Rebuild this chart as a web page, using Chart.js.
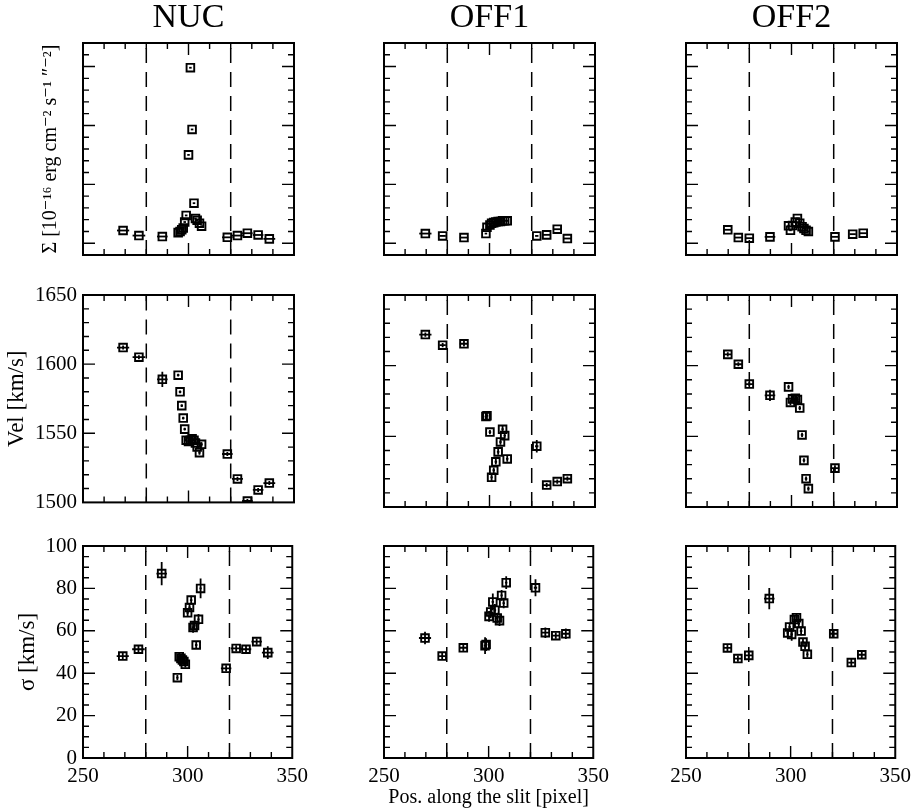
<!DOCTYPE html>
<html lang="en">
<head>
<meta charset="UTF-8">
<title>Slit profiles: NUC, OFF1, OFF2</title>
<script src="https://cdn.jsdelivr.net/npm/chart.js"></script>
<style>
    body {
        margin: 0;
        background: #fff;
        width: 912px;
        height: 811px;
        position: relative;
        overflow: hidden;
    }
    canvas {
        position: absolute;
    }
</style>
</head>
<body>
<script>
    // ---- data ----
    const slitEdges = [280, 320];
    const xTicks = [250, 300, 350];

    // NUC
    const nucPos    = [269.0, 276.5, 287.6, 295.1, 296.0, 296.8, 297.5, 298.2, 298.9, 300.0, 300.9, 301.7, 302.6, 303.3, 304.1, 305.2, 306.2, 318.4, 323.2, 327.9, 333.0, 338.3];
    const nucPosErr = [2.9, 3.0, 2.5, 0.6, 0.6, 0.6, 0.6, 0.6, 0.6, 0.6, 0.6, 0.6, 0.6, 0.6, 0.6, 0.6, 0.6, 2.5, 2.6, 2.5, 2.5, 2.8];
    const nucFlux   = [1.08, 0.65, 0.57, 0.9, 1.0, 1.15, 1.3, 1.8, 2.36, 7.5, 14.9, 9.66, 3.4, 2.1, 1.95, 1.7, 1.45, 0.5, 0.65, 0.85, 0.7, 0.37];
    const nucVel    = [1612, 1605, 1589, 1592, 1580, 1570, 1561, 1553, 1545, 1544, 1545, 1546, 1545, 1543, 1540, 1536, 1542, 1535, 1517, 1501, 1509, 1514];
    const nucVelErr = [1.5, 1.5, 5.5, 1, 1, 1, 1, 1, 1, 1, 1, 1, 1, 1, 1, 1.5, 1.5, 1.5, 1.5, 1.5, 1.5, 1.5];
    const nucSig    = [48.1, 51.3, 87.0, 37.9, 47.8, 47.0, 46.2, 45.5, 44.2, 68.5, 71.0, 74.5, 61.6, 62.5, 53.3, 65.4, 80.0, 42.3, 51.7, 51.3, 54.9, 49.7];
    const nucSigErr = [1.5, 1.5, 5.5, 1.2, 2, 2, 2, 1.5, 1.5, 2, 2, 2, 2.5, 2, 1.5, 2.5, 4.7, 1.5, 1.5, 2, 1.5, 3];

    // OFF1
    const off1Pos    = [269.6, 277.8, 287.9, 298.3, 298.8, 300.2, 301.0, 302.0, 303.0, 304.1, 305.2, 306.2, 307.2, 308.4, 322.4, 327.1, 332.1, 336.9];
    const off1PosErr = [2.9, 1.5, 2.0, 0.6, 0.6, 0.6, 0.6, 0.6, 0.6, 0.6, 0.6, 0.6, 0.6, 0.6, 0.8, 2.0, 2.0, 2.0];
    const off1Flux   = [0.82, 0.62, 0.48, 0.82, 1.35, 1.55, 1.7, 1.75, 1.8, 1.85, 1.85, 1.9, 1.9, 1.9, 0.62, 0.71, 1.19, 0.4];
    const off1Vel    = [1622, 1614.5, 1615.5, 1564, 1564.5, 1553, 1521, 1526, 1532, 1539, 1546, 1555, 1550.5, 1534, 1543, 1515.5, 1518, 1520];
    const off1VelErr = [1.5, 1.5, 2, 2.5, 2.5, 1.5, 2.5, 2, 2, 2, 2, 2.5, 2, 2, 4.4, 1.5, 1.5, 1.5];
    const off1Sig    = [56.6, 48.1, 52.0, 53.0, 53.5, 66.8, 68.9, 73.6, 69.7, 66.0, 64.8, 76.7, 73.1, 82.7, 80.3, 59.1, 57.7, 58.6];
    const off1SigErr = [3, 1.5, 2, 4, 3, 2.5, 3, 4, 3, 2.5, 2.5, 2.5, 2.5, 3, 4, 2.5, 1.5, 2.5];

    // OFF2 (no velocity in range at the two outermost positions)
    const off2Pos    = [269.8, 274.8, 280.0, 289.8, 298.6, 299.5, 300.5, 301.8, 302.8, 303.9, 305.0, 305.9, 306.9, 308.0, 320.6, 329.0, 334.0];
    const off2PosErr = [2, 2, 2, 2.5, 0.6, 0.6, 0.6, 0.6, 0.6, 0.6, 0.6, 0.6, 0.6, 0.6, 2, 1.5, 2];
    const off2Flux   = [1.14, 0.48, 0.43, 0.54, 1.48, 1.1, 1.5, 1.8, 2.1, 1.7, 1.4, 1.25, 1.1, 0.99, 0.54, 0.77, 0.85];
    const off2Vel    = [1608, 1601, 1587, 1579, 1585, 1574, 1576.5, 1577, 1576, 1570, 1551, 1533, 1520, 1513, 1527.5, null, null];
    const off2VelErr = [1.5, 1.5, 1.5, 4, 1.5, 2, 2, 2, 2, 1.5, 1.5, 1.5, 1.5, 1.5, 2, 0, 0];
    const off2Sig    = [51.9, 46.9, 48.4, 75.2, 59.0, 61.8, 58.3, 65.3, 66.2, 63.4, 59.9, 54.7, 52.7, 48.9, 58.6, 45.0, 48.7];
    const off2SigErr = [1.5, 1.5, 1.5, 5, 2, 2, 3, 2, 2, 2, 2, 1.5, 1.5, 1.5, 2, 2, 1.5];

    // ---- layout ----
    const FONT = "'Liberation Serif', 'DejaVu Serif', serif";
    const colLeft = [83, 384, 686];
    const rowTop = [43, 295, 546];
    const plotW = 211, plotH = 212, axisW = 83, padR = 20;

    const columns = [
        {name: 'NUC',  pos: nucPos,  posErr: nucPosErr,  flux: nucFlux,  vel: nucVel,  velErr: nucVelErr,  sig: nucSig,  sigErr: nucSigErr},
        {name: 'OFF1', pos: off1Pos, posErr: off1PosErr, flux: off1Flux, vel: off1Vel, velErr: off1VelErr, sig: off1Sig, sigErr: off1SigErr},
        {name: 'OFF2', pos: off2Pos, posErr: off2PosErr, flux: off2Flux, vel: off2Vel, velErr: off2VelErr, sig: off2Sig, sigErr: off2SigErr}
    ];

    const rows = [
        {key: 'flux', err: null,     min: -1,   max: 17,   major: 5,  minor: 1,  labels: false, title: 'Σ [10⁻¹⁶ erg cm⁻² s⁻¹ ″⁻²]', titleSize: 20, titlePad: 39},
        {key: 'vel',  err: 'velErr', min: 1500, max: 1650, major: 50, minor: 10, labels: true,  title: 'Vel [km/s]', titleSize: 23, titlePad: 3},
        {key: 'sig',  err: 'sigErr', min: 0,    max: 100,  major: 20, minor: 5,  labels: true,  title: 'σ [km/s]', titleSize: 23, titlePad: 14}
    ];
    const xSpec = {min: 250, max: 350, major: 50, minor: 10};

    // dashed slit edges, error bars, and IDL-style box with inward ticks
    const panelPlugin = {
        id: 'panel',
        beforeDatasetsDraw(chart) {
            const {ctx, chartArea: a, scales: {x, y}} = chart;
            ctx.save();
            ctx.beginPath();
            ctx.rect(a.left, a.top, a.width, a.height);
            ctx.clip();
            ctx.strokeStyle = '#000';
            ctx.lineWidth = 1.5;
            ctx.setLineDash([15, 9]);
            slitEdges.forEach(v => {
                const px = x.getPixelForValue(v);
                ctx.beginPath();
                ctx.moveTo(px, a.bottom);
                ctx.lineTo(px, a.top);
                ctx.stroke();
            });
            ctx.setLineDash([]);
            ctx.lineWidth = 1.8;
            chart.data.datasets[0].data.forEach(p => {
                const px = x.getPixelForValue(p.x), py = y.getPixelForValue(p.y);
                ctx.beginPath();
                ctx.moveTo(x.getPixelForValue(p.x - p.ex), py);
                ctx.lineTo(x.getPixelForValue(p.x + p.ex), py);
                if (p.ey) {
                    ctx.moveTo(px, y.getPixelForValue(p.y - p.ey));
                    ctx.lineTo(px, y.getPixelForValue(p.y + p.ey));
                }
                ctx.stroke();
            });
            ctx.restore();
        },
        afterDraw(chart, args, opts) {
            const {ctx, chartArea: a, scales: {x, y}} = chart;
            ctx.save();
            ctx.strokeStyle = '#000';
            ctx.lineWidth = 1.4;
            ctx.beginPath();
            [[x, xSpec, true], [y, opts.ySpec, false]].forEach(([scale, s, horiz]) => {
                const n = Math.round((s.max - s.min) / s.minor);
                for (let k = 1; k < n; k++) {
                    const v = s.min + k * s.minor;
                    const major = Math.abs(v / s.major - Math.round(v / s.major)) < 1e-6;
                    const len = major ? 12 : 6;
                    const p = scale.getPixelForValue(v);
                    if (horiz) {
                        ctx.moveTo(p, a.bottom); ctx.lineTo(p, a.bottom - len);
                        ctx.moveTo(p, a.top); ctx.lineTo(p, a.top + len);
                    } else {
                        ctx.moveTo(a.left, p); ctx.lineTo(a.left + len, p);
                        ctx.moveTo(a.right, p); ctx.lineTo(a.right - len, p);
                    }
                }
            });
            ctx.stroke();
            ctx.lineWidth = 2;
            ctx.strokeRect(a.left, a.top, a.width, a.height);
            ctx.restore();
        }
    };

    rows.forEach((row, r) => {
        columns.forEach((col, c) => {
            const xAxisH = r === 2 ? 53 : 14;
            const padTop = r === 0 ? 0 : 20;
            const headH = r === 0 ? rowTop[0] : padTop;
            const canvas = document.createElement('canvas');
            canvas.width = axisW + plotW + padR;
            canvas.height = headH + plotH + xAxisH;
            canvas.style.left = (colLeft[c] - axisW) + 'px';
            canvas.style.top = (rowTop[r] - headH) + 'px';
            document.body.appendChild(canvas);

            const ys = col[row.key];
            const errs = row.err ? col[row.err] : null;
            const points = [];
            col.pos.forEach((xv, i) => {
                if (ys[i] === null) return;
                points.push({x: xv, y: ys[i], ex: col.posErr[i], ey: errs ? errs[i] : 0});
            });

            new Chart(canvas, {
                type: 'scatter',
                data: {
                    datasets: [{
                        data: points,
                        pointStyle: 'rect',
                        pointRadius: 5.4,
                        borderColor: '#000',
                        pointBorderColor: '#000',
                        backgroundColor: 'rgba(0,0,0,0)',
                        pointBackgroundColor: 'rgba(0,0,0,0)',
                        borderWidth: 1.9,
                        pointBorderWidth: 1.9
                    }]
                },
                options: {
                    responsive: false,
                    animation: false,
                    events: [],
                    layout: {padding: {top: padTop, right: padR, left: 0, bottom: 0}},
                    plugins: {
                        legend: {display: false},
                        tooltip: {enabled: false},
                        title: {
                            display: r === 0,
                            text: col.name,
                            color: '#000',
                            fullSize: false,
                            font: {family: FONT, size: 34, weight: 'normal', lineHeight: 1.0},
                            padding: {top: 1, bottom: rowTop[0] - 35}
                        },
                        panel: {ySpec: row}
                    },
                    scales: {
                        x: {
                            type: 'linear',
                            min: xSpec.min,
                            max: xSpec.max,
                            grid: {display: false, drawTicks: false},
                            border: {display: false},
                            afterBuildTicks: s => { s.ticks = xTicks.map(v => ({value: v})); },
                            ticks: {
                                display: r === 2,
                                autoSkip: false,
                                maxRotation: 0,
                                padding: 6,
                                color: '#000',
                                font: {family: FONT, size: 21},
                                callback: v => String(v)
                            },
                            title: {
                                display: r === 2 && c === 1,
                                text: 'Pos. along the slit [pixel]',
                                color: '#000',
                                font: {family: FONT, size: 20},
                                padding: {top: 0, bottom: 1}
                            },
                            afterFit: s => { s.height = xAxisH; }
                        },
                        y: {
                            type: 'linear',
                            min: row.min,
                            max: row.max,
                            grid: {display: false, drawTicks: false},
                            border: {display: false},
                            ticks: {
                                display: row.labels && c === 0,
                                stepSize: row.major,
                                autoSkip: false,
                                padding: 6,
                                color: '#000',
                                font: {family: FONT, size: 21},
                                callback: v => String(v)
                            },
                            title: {
                                display: c === 0,
                                text: row.title,
                                color: '#000',
                                font: {family: FONT, size: row.titleSize},
                                padding: {top: row.titlePad, bottom: 0}
                            },
                            afterFit: s => { s.width = axisW; }
                        }
                    }
                },
                plugins: [panelPlugin]
            });
        });
    });
</script>
</body>
</html>
